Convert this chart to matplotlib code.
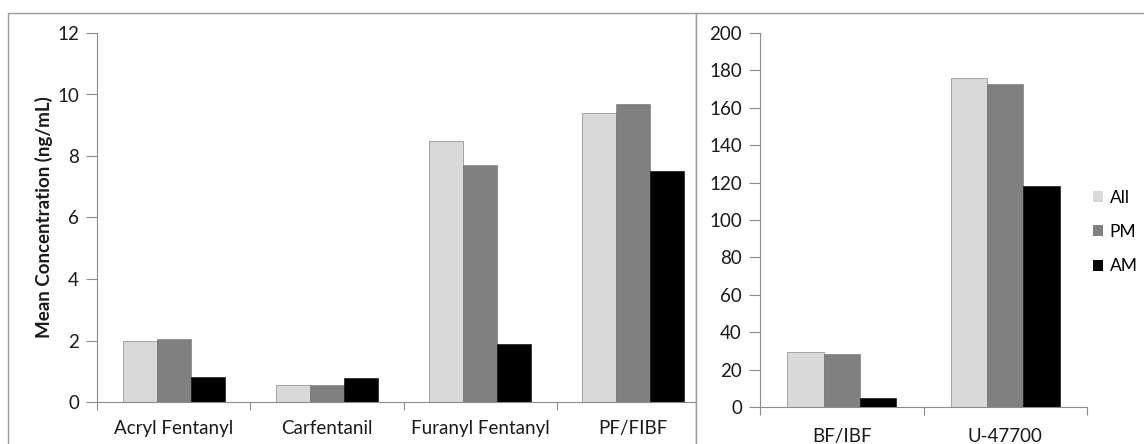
import numpy as np
import matplotlib.pyplot as plt
from matplotlib.patches import Rectangle

plt.rcParams['font.family'] = ['Lato', 'DejaVu Sans']

# left panel data (ng/mL)
left_cats = ['Acryl Fentanyl', 'Carfentanil', 'Furanyl Fentanyl', 'PF/FIBF']
left_all = [2.0, 0.55, 8.48, 9.39]
left_pm = [2.04, 0.55, 7.72, 9.70]
left_am = [0.82, 0.77, 1.90, 7.52]

# right panel data (ng/mL)
right_cats = ['BF/IBF', 'U-47700']
right_all = [29.2, 175.9]
right_pm = [28.5, 172.5]
right_am = [4.8, 118.3]

series = ['All', 'PM', 'AM']
colors = ['#d9d9d9', '#808080', '#000000']
axis_col = '#8c8c8c'
txt_col = '#1a1a1a'
fs = 13.5

W, H = 1144, 444
fig = plt.figure(figsize=(W / 100, H / 100), dpi=100)
fig.patch.set_facecolor('white')

def px_axes(x0, x1, ytop, ybot, z):
    return fig.add_axes([x0 / W, 1 - ybot / H, (x1 - x0) / W, (ybot - ytop) / H], zorder=z)

def draw_bars(ax, cats, vals):
    x = np.arange(len(cats))
    bw = 2 / 9
    for i, (v, c) in enumerate(zip(vals, colors)):
        ax.bar(x + (i - 1) * bw, v, bw, color=c, edgecolor='#6e6e6e' if i < 2 else 'black',
               linewidth=0.4, label=series[i])
    ax.set_xlim(-0.5, len(cats) - 0.5)
    ax.set_xticks(x)
    ax.set_xticklabels(cats)
    ax.set_xticks(np.arange(len(cats) + 1) - 0.5, minor=True)
    ax.tick_params(axis='x', which='major', length=0, labelsize=fs, colors=txt_col)
    ax.tick_params(axis='x', which='minor', length=6, color=axis_col, width=0.8)
    ax.tick_params(axis='y', length=8, color=axis_col, width=0.8, labelsize=fs,
                   labelcolor=txt_col, pad=5)
    for s in ['top', 'right']:
        ax.spines[s].set_visible(False)
    for s in ['left', 'bottom']:
        ax.spines[s].set_color(axis_col)
        ax.spines[s].set_linewidth(0.8)
    ax.set_facecolor('none')

# left panel
ax1 = px_axes(97, 710, 33, 402, 0)
draw_bars(ax1, left_cats, [left_all, left_pm, left_am])
ax1.set_ylim(0, 12)
ax1.set_yticks(range(0, 13, 2))
ax1.tick_params(axis='x', which='major', pad=13)
ax1.set_ylabel('Mean Concentration (ng/mL)', fontsize=fs, fontweight='bold',
               color=txt_col, labelpad=3)

# outer frame of left panel
fig.add_artist(Rectangle((8 / W, -0.1), (696 - 8) / W, 1.1 - 13 / H,
                         transform=fig.transFigure, facecolor='none',
                         edgecolor='#9a9a9a', linewidth=1.0, zorder=0.5))
# right panel frame covers the left axis overflow
fig.add_artist(Rectangle((696 / W, -0.1), 0.5, 1.1 - 13 / H,
                         transform=fig.transFigure, facecolor='white',
                         edgecolor='#9a9a9a', linewidth=1.0, zorder=1))

# right panel
ax2 = px_axes(760, 1087, 33, 407, 2)
draw_bars(ax2, right_cats, [right_all, right_pm, right_am])
ax2.set_ylim(0, 200)
ax2.set_yticks(range(0, 201, 20))
ax2.tick_params(axis='x', which='major', pad=15)

h, l = ax2.get_legend_handles_labels()
leg = fig.legend(h, l, loc='center left', bbox_to_anchor=(1093 / W, 1 - 232 / H),
                 frameon=False, fontsize=12.5, handlelength=0.6, handleheight=0.6,
                 handletextpad=0.35, labelspacing=1.05, borderaxespad=0, borderpad=0)
leg.set_zorder(3)
for p in leg.get_patches():
    p.set_linewidth(0)

fig.savefig('out.png', dpi=100, facecolor='white')
